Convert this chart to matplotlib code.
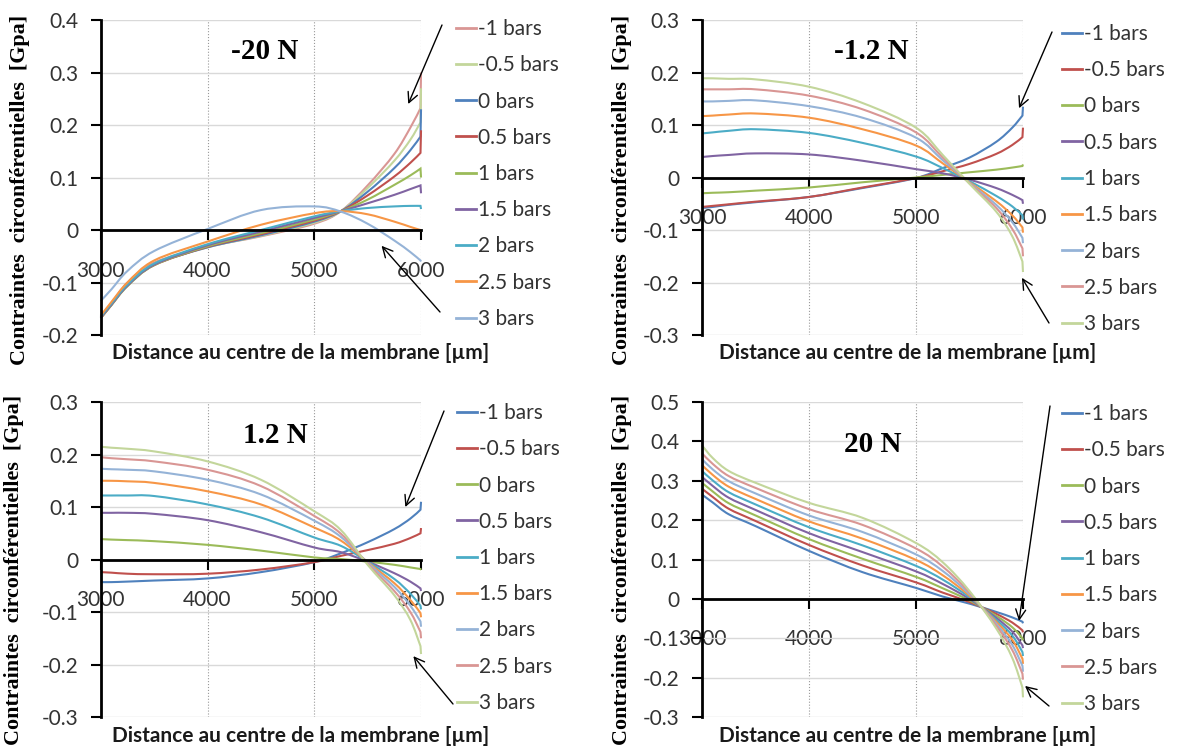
import numpy as np
import matplotlib.pyplot as plt
from matplotlib.path import Path
from matplotlib.patches import PathPatch
from matplotlib.ticker import FuncFormatter, MultipleLocator

plt.rcParams['font.family'] = ['Lato', 'DejaVu Sans']

# Distance au centre de la membrane [um]
dist = [3000, 3100, 3250, 3500, 4000, 4500, 5000, 5250, 5500, 5750, 5900, 5995, 6000]
pressions = ['-1 bars', '-0.5 bars', '0 bars', '0.5 bars', '1 bars',
             '1.5 bars', '2 bars', '2.5 bars', '3 bars']

# Contraintes circonferentielles [GPa], force -20 N
m20_m1 = [-0.165, -0.140, -0.100, -0.062, -0.032, -0.012, 0.012, 0.036, 0.085, 0.145, 0.195, 0.232, 0.300]
m20_m05 = [-0.166, -0.141, -0.103, -0.065, -0.033, -0.011, 0.014, 0.036, 0.080, 0.132, 0.172, 0.205, 0.270]
m20_0 = [-0.167, -0.142, -0.105, -0.066, -0.033, -0.010, 0.016, 0.036, 0.073, 0.118, 0.152, 0.178, 0.230]
m20_05 = [-0.168, -0.143, -0.106, -0.067, -0.032, -0.008, 0.018, 0.036, 0.066, 0.102, 0.128, 0.147, 0.190]
m20_1 = [-0.168, -0.143, -0.107, -0.067, -0.031, -0.006, 0.020, 0.036, 0.058, 0.086, 0.104, 0.117, 0.100]
m20_15 = [-0.167, -0.142, -0.106, -0.066, -0.029, -0.003, 0.023, 0.036, 0.051, 0.067, 0.078, 0.085, 0.070]
m20_2 = [-0.165, -0.140, -0.104, -0.064, -0.027, 0.000, 0.026, 0.036, 0.042, 0.045, 0.046, 0.046, 0.040]
m20_25 = [-0.163, -0.137, -0.100, -0.058, -0.022, 0.010, 0.032, 0.036, 0.030, 0.016, 0.006, 0.000, -0.003]
m20_3 = [-0.135, -0.113, -0.078, -0.040, 0.002, 0.038, 0.045, 0.035, 0.012, -0.020, -0.042, -0.058, -0.060]

# force -1.2 N
m12_m1 = [-0.058, -0.056, -0.052, -0.047, -0.037, -0.020, -0.001, 0.018, 0.038, 0.068, 0.095, 0.118, 0.135]
m12_m05 = [-0.056, -0.054, -0.051, -0.046, -0.037, -0.019, -0.001, 0.012, 0.026, 0.045, 0.062, 0.077, 0.095]
m12_0 = [-0.030, -0.029, -0.028, -0.025, -0.019, -0.009, 0.000, 0.005, 0.010, 0.015, 0.019, 0.022, 0.025]
m12_05 = [0.039, 0.041, 0.043, 0.046, 0.044, 0.032, 0.016, 0.008, -0.004, -0.020, -0.033, -0.043, -0.050]
m12_1 = [0.084, 0.086, 0.089, 0.092, 0.085, 0.066, 0.040, 0.018, -0.007, -0.035, -0.055, -0.072, -0.080]
m12_15 = [0.117, 0.118, 0.120, 0.122, 0.114, 0.092, 0.061, 0.027, -0.009, -0.045, -0.072, -0.095, -0.105]
m12_2 = [0.145, 0.145, 0.146, 0.147, 0.136, 0.114, 0.076, 0.033, -0.010, -0.052, -0.085, -0.115, -0.125]
m12_25 = [0.168, 0.168, 0.168, 0.168, 0.156, 0.130, 0.086, 0.038, -0.011, -0.058, -0.098, -0.135, -0.150]
m12_3 = [0.189, 0.189, 0.188, 0.187, 0.173, 0.142, 0.095, 0.043, -0.012, -0.065, -0.112, -0.160, -0.180]

# force 1.2 N
p12_m1 = [-0.043, -0.043, -0.042, -0.040, -0.036, -0.024, -0.005, 0.012, 0.033, 0.058, 0.078, 0.095, 0.110]
p12_m05 = [-0.024, -0.025, -0.027, -0.028, -0.027, -0.019, -0.005, 0.007, 0.018, 0.030, 0.041, 0.050, 0.060]
p12_0 = [0.039, 0.038, 0.037, 0.035, 0.028, 0.017, 0.004, 0.001, -0.004, -0.010, -0.015, -0.018, -0.020]
p12_05 = [0.089, 0.089, 0.089, 0.087, 0.075, 0.052, 0.023, 0.014, -0.004, -0.026, -0.042, -0.055, -0.060]
p12_1 = [0.122, 0.122, 0.122, 0.121, 0.105, 0.080, 0.042, 0.026, -0.004, -0.037, -0.065, -0.088, -0.095]
p12_15 = [0.150, 0.150, 0.149, 0.146, 0.130, 0.105, 0.061, 0.036, -0.005, -0.045, -0.077, -0.102, -0.110]
p12_2 = [0.173, 0.172, 0.171, 0.168, 0.152, 0.124, 0.074, 0.043, -0.006, -0.052, -0.088, -0.118, -0.128]
p12_25 = [0.195, 0.193, 0.191, 0.187, 0.171, 0.140, 0.083, 0.049, -0.008, -0.060, -0.100, -0.138, -0.150]
p12_3 = [0.215, 0.213, 0.211, 0.206, 0.187, 0.152, 0.092, 0.056, -0.010, -0.068, -0.115, -0.165, -0.180]

# force 20 N
p20_m1 = [0.265, 0.245, 0.215, 0.185, 0.122, 0.068, 0.028, 0.006, -0.012, -0.033, -0.047, -0.058, -0.062]
p20_m05 = [0.280, 0.259, 0.229, 0.198, 0.137, 0.085, 0.042, 0.016, -0.008, -0.038, -0.060, -0.080, -0.085]
p20_0 = [0.295, 0.273, 0.243, 0.212, 0.152, 0.102, 0.056, 0.027, -0.004, -0.043, -0.072, -0.100, -0.105]
p20_05 = [0.310, 0.287, 0.257, 0.226, 0.167, 0.119, 0.070, 0.038, 0.000, -0.048, -0.083, -0.118, -0.125]
p20_1 = [0.325, 0.301, 0.271, 0.240, 0.182, 0.136, 0.084, 0.049, 0.004, -0.053, -0.093, -0.135, -0.145]
p20_15 = [0.340, 0.315, 0.285, 0.254, 0.197, 0.153, 0.099, 0.060, 0.008, -0.058, -0.104, -0.152, -0.165]
p20_2 = [0.355, 0.329, 0.299, 0.268, 0.212, 0.170, 0.113, 0.071, 0.012, -0.063, -0.117, -0.170, -0.185]
p20_25 = [0.370, 0.343, 0.312, 0.282, 0.228, 0.188, 0.128, 0.082, 0.016, -0.068, -0.130, -0.190, -0.205]
p20_3 = [0.390, 0.358, 0.325, 0.295, 0.244, 0.206, 0.142, 0.093, 0.020, -0.075, -0.150, -0.225, -0.250]

forces = ['-20 N', '-1.2 N', '1.2 N', '20 N']
series = [
    [m20_m1, m20_m05, m20_0, m20_05, m20_1, m20_15, m20_2, m20_25, m20_3],
    [m12_m1, m12_m05, m12_0, m12_05, m12_1, m12_15, m12_2, m12_25, m12_3],
    [p12_m1, p12_m05, p12_0, p12_05, p12_1, p12_15, p12_2, p12_25, p12_3],
    [p20_m1, p20_m05, p20_0, p20_05, p20_1, p20_15, p20_2, p20_25, p20_3],
]
ylims = [(-0.2, 0.4), (-0.3, 0.3), (-0.3, 0.3), (-0.3, 0.5)]

# excel 2007 palette
blue, red, green, purple = '#4F81BD', '#C0504D', '#9BBB59', '#8064A2'
aqua, orange = '#4BACC6', '#F79646'
lblue, pink, lgreen = '#95B3D7', '#D99694', '#C3D69B'
palettes = [
    [pink, lgreen, blue, red, green, purple, aqua, orange, lblue],
    [blue, red, green, purple, aqua, orange, lblue, pink, lgreen],
    [blue, red, green, purple, aqua, orange, lblue, pink, lgreen],
    [blue, red, green, purple, aqua, orange, lblue, pink, lgreen],
]


def smooth_path(x, y):
    # smoothed line (bezier through the points), last jump at 6000 kept straight
    p = np.column_stack([x, y]).astype(float)
    pts = p[:-1]
    n = len(pts)
    verts = [pts[0]]
    codes = [Path.MOVETO]
    for k in range(n - 1):
        a = pts[max(k - 1, 0)]
        b = pts[k]
        c = pts[k + 1]
        d = pts[min(k + 2, n - 1)]
        verts += [b + (c - a) / 6, c - (d - b) / 6, c]
        codes += [Path.CURVE4] * 3
    verts.append(p[-1])
    codes.append(Path.LINETO)
    return Path(verts, codes)


W, H = 1181, 748
fig = plt.figure(figsize=(W / 100, H / 100), dpi=100)
rects = [(0.0853, 0.5521, 0.2712, 0.4211), (0.5944, 0.5521, 0.2718, 0.4211),
         (0.0853, 0.0414, 0.2712, 0.4211), (0.5944, 0.0414, 0.2718, 0.4211)]
title_pos = [(4536, 0.341), (4579, 0.241), (4638, 0.237), (4598, 0.393)]
ylab_pos = [(-0.252, 0.46), (-0.249, 0.46), (-0.27, 0.467), (-0.249, 0.467)]
xlab_pos = [(0.625, -0.057), (0.642, -0.057), (0.625, -0.06), (0.642, -0.06)]
# legend anchor, pixels from top-left
leg_pos = [(456, 19), (1062, 24), (457, 403), (1062, 404)]
# arrows: tip in data, tail in pixels from top-left
arrows = [
    [((5880, 0.24), (442, 25)), ((5630, -0.03), (440, 312))],
    [((5963, 0.132), (1052, 32)), ((5990, -0.191), (1049, 323))],
    [((5853, 0.10), (444, 411)), ((5928, -0.184), (453, 704))],
    [((5963, -0.056), (1050, 406)), ((6019, -0.221), (1049, 706))],
]

fmt = FuncFormatter(lambda v, p: '0' if abs(v) < 1e-9 else f'{v:.1f}')
tick_col = '#333333'

for i in range(4):
    ax = fig.add_axes(rects[i])
    for vals, lab, col in zip(series[i], pressions, palettes[i]):
        ax.add_patch(PathPatch(smooth_path(dist, vals), fill=False, edgecolor=col,
                               lw=1.5, clip_on=False))
        ax.plot([], [], color=col, lw=2, label=lab)

    ax.set_xlim(3000, 6000)
    ax.set_ylim(*ylims[i])
    ax.xaxis.set_major_locator(MultipleLocator(1000))
    ax.yaxis.set_major_locator(MultipleLocator(0.1))
    ax.yaxis.set_major_formatter(fmt)

    ax.spines['top'].set_visible(False)
    ax.spines['right'].set_visible(False)
    ax.spines['bottom'].set_position(('data', 0))
    ax.spines['bottom'].set_linewidth(2)
    ax.spines['left'].set_linewidth(2)
    ax.spines['bottom'].set_zorder(1)

    ax.yaxis.grid(True, color='#D9D9D9', lw=1)
    ax.xaxis.grid(True, color='#999999', lw=0.8, ls=':')
    ax.set_axisbelow(True)

    ax.tick_params(axis='y', direction='out', length=7, width=1.5,
                   labelsize=15, labelcolor=tick_col, pad=9)
    ax.tick_params(axis='x', direction='out', length=7, width=1.5,
                   labelsize=15, labelcolor=tick_col, pad=15)

    ax.text(*title_pos[i], forces[i], ha='center', va='center', fontsize=21,
            fontweight='bold', family='Liberation Serif')

    ax.set_ylabel('Contraintes  circonférentielles  [Gpa]', family='Liberation Serif',
                  fontweight='bold', fontsize=15.8, va='center')
    ax.yaxis.set_label_coords(*ylab_pos[i])
    ax.set_xlabel('Distance au centre de la membrane [µm]', fontweight='bold',
                  fontsize=15, va='center', color='#1a1a1a')
    ax.xaxis.set_label_coords(*xlab_pos[i])

    lx, ly = leg_pos[i]
    ax.legend(loc='upper left', bbox_to_anchor=(lx / W, 1 - ly / H),
              bbox_transform=fig.transFigure, frameon=False, fontsize=15,
              borderpad=0, handlelength=0.95, handletextpad=0.1,
              labelspacing=0.78, borderaxespad=0, labelcolor=tick_col)

    for tip, tail in arrows[i]:
        ax.annotate('', xy=tip, xytext=(tail[0], H - tail[1]),
                    textcoords='figure pixels', annotation_clip=False,
                    arrowprops=dict(arrowstyle='->', color='black', lw=1,
                                    mutation_scale=18, shrinkA=0, shrinkB=0))

fig.savefig('out.png', dpi=100, facecolor='white')
